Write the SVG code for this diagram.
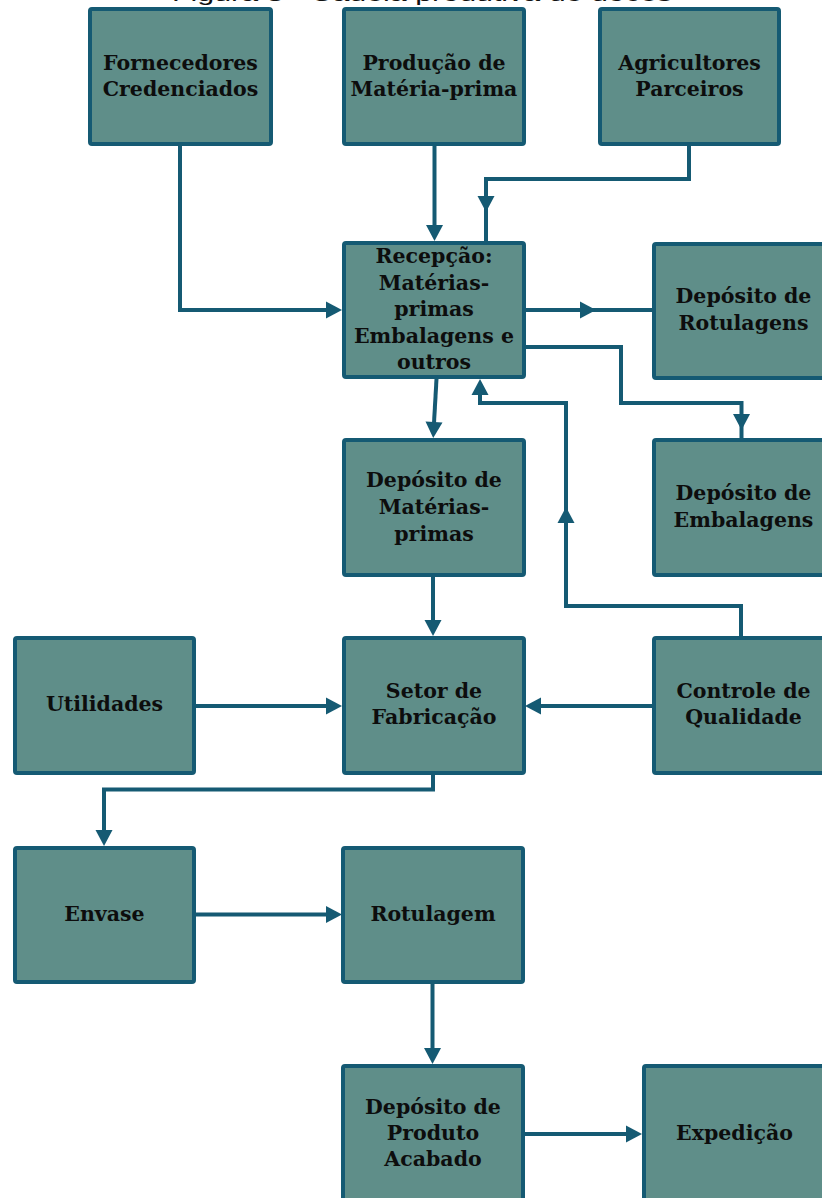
<svg xmlns="http://www.w3.org/2000/svg" xmlns:xlink="http://www.w3.org/1999/xlink" width="822" height="1198" viewBox="0 0 822 1198">
<style>
.box{fill:#5f8e89;stroke:#155a73;stroke-width:4}
.lbl{font-family:"DejaVu Serif","Liberation Serif",serif;font-weight:bold;font-size:20.5px;fill:#0d0d0d;text-anchor:middle}
.ln{fill:none;stroke:#155a73;stroke-width:4;stroke-linejoin:miter}
.ah{fill:#155a73}
.title{font-family:"Liberation Sans",Arial,sans-serif;font-size:20px;fill:#111}
</style>
<defs>
<path id="ah" d="M-16,-8.5 L0,0 L-16,8.5 z"/>
</defs>
<rect width="822" height="1198" fill="#ffffff"/>
<text class="title" x="172" y="0.5" textLength="500" lengthAdjust="spacingAndGlyphs">Figura 3 - Cadeia produtiva de doces</text>

<g id="connectors">
<path class="ln" d="M180,146 V310 H332"/>
<use href="#ah" class="ah" transform="translate(342,310)"/>
<path class="ln" d="M434.5,146 V232"/>
<use href="#ah" class="ah" transform="translate(434.5,241) rotate(90)"/>
<path class="ln" d="M689,146 V179 H486 V242"/>
<use href="#ah" class="ah" transform="translate(486,212) rotate(90)"/>
<path class="ln" d="M525,310 H652"/>
<use href="#ah" class="ah" transform="translate(596,310)"/>
<path class="ln" d="M525,347 H621 V403 H741.5 V438"/>
<use href="#ah" class="ah" transform="translate(741.5,430) rotate(90)"/>
<path class="ln" d="M436.5,379 L433.6,430"/>
<use href="#ah" class="ah" transform="translate(433.2,438) rotate(92.9)"/>
<path class="ln" d="M741,636 V606 H566 V403 H480 V388"/>
<use href="#ah" class="ah" transform="translate(480,379) rotate(-90)"/>
<use href="#ah" class="ah" transform="translate(566,507) rotate(-90)"/>
<path class="ln" d="M433,576 V628"/>
<use href="#ah" class="ah" transform="translate(433,636) rotate(90)"/>
<path class="ln" d="M196,706 H334"/>
<use href="#ah" class="ah" transform="translate(342,706)"/>
<path class="ln" d="M652,706 H533"/>
<use href="#ah" class="ah" transform="translate(525,706) rotate(180)"/>
<path class="ln" d="M433,774 V789.5 H104 V838"/>
<use href="#ah" class="ah" transform="translate(104,846) rotate(90)"/>
<path class="ln" d="M196,914.5 H334"/>
<use href="#ah" class="ah" transform="translate(342,914.5)"/>
<path class="ln" d="M432.5,983 V1056"/>
<use href="#ah" class="ah" transform="translate(432.5,1064) rotate(90)"/>
<path class="ln" d="M524,1134 H634"/>
<use href="#ah" class="ah" transform="translate(642,1134)"/>
</g>

<g id="fornecedores">
<rect class="box" x="90" y="9" width="181" height="135" rx="2"/>
<text class="lbl" x="180.5" y="70">Fornecedores</text>
<text class="lbl" x="180.5" y="96">Credenciados</text>
</g>
<g id="producao">
<rect class="box" x="344" y="9" width="180" height="135" rx="2"/>
<text class="lbl" x="434" y="70">Produção de</text>
<text class="lbl" x="434" y="96">Matéria-prima</text>
</g>
<g id="agricultores">
<rect class="box" x="600" y="9" width="179" height="135" rx="2"/>
<text class="lbl" x="689.5" y="70">Agricultores</text>
<text class="lbl" x="689.5" y="96">Parceiros</text>
</g>
<g id="recepcao">
<rect class="box" x="344" y="243" width="180" height="134" rx="2"/>
<text class="lbl" x="434" y="263">Recepção:</text>
<text class="lbl" x="434" y="289.5">Matérias-</text>
<text class="lbl" x="434" y="316">primas</text>
<text class="lbl" x="434" y="342.5">Embalagens e</text>
<text class="lbl" x="434" y="369">outros</text>
</g>
<g id="deposito-rotulagens">
<rect class="box" x="654" y="244" width="181" height="134" rx="2"/>
<text class="lbl" x="743.5" y="303">Depósito de</text>
<text class="lbl" x="743.5" y="330">Rotulagens</text>
</g>
<g id="deposito-materias-primas">
<rect class="box" x="344" y="440" width="180" height="135" rx="2"/>
<text class="lbl" x="434" y="487">Depósito de</text>
<text class="lbl" x="434" y="514">Matérias-</text>
<text class="lbl" x="434" y="541">primas</text>
</g>
<g id="deposito-embalagens">
<rect class="box" x="654" y="440" width="181" height="135" rx="2"/>
<text class="lbl" x="743.5" y="500">Depósito de</text>
<text class="lbl" x="743.5" y="527">Embalagens</text>
</g>
<g id="utilidades">
<rect class="box" x="15" y="638" width="179" height="135" rx="2"/>
<text class="lbl" x="104.5" y="711">Utilidades</text>
</g>
<g id="setor-fabricacao">
<rect class="box" x="344" y="638" width="180" height="135" rx="2"/>
<text class="lbl" x="434" y="698">Setor de</text>
<text class="lbl" x="434" y="724">Fabricação</text>
</g>
<g id="controle-qualidade">
<rect class="box" x="654" y="638" width="181" height="135" rx="2"/>
<text class="lbl" x="743.5" y="698">Controle de</text>
<text class="lbl" x="743.5" y="724">Qualidade</text>
</g>
<g id="envase">
<rect class="box" x="15" y="848" width="179" height="134" rx="2"/>
<text class="lbl" x="104.5" y="921">Envase</text>
</g>
<g id="rotulagem">
<rect class="box" x="343" y="848" width="180" height="134" rx="2"/>
<text class="lbl" x="433" y="921">Rotulagem</text>
</g>
<g id="deposito-produto-acabado">
<rect class="box" x="343" y="1066" width="180" height="140" rx="2"/>
<text class="lbl" x="433" y="1114">Depósito de</text>
<text class="lbl" x="433" y="1140">Produto</text>
<text class="lbl" x="433" y="1166">Acabado</text>
</g>
<g id="expedicao">
<rect class="box" x="644" y="1066" width="181" height="140" rx="2"/>
<text class="lbl" x="734.5" y="1140">Expedição</text>
</g>
</svg>
